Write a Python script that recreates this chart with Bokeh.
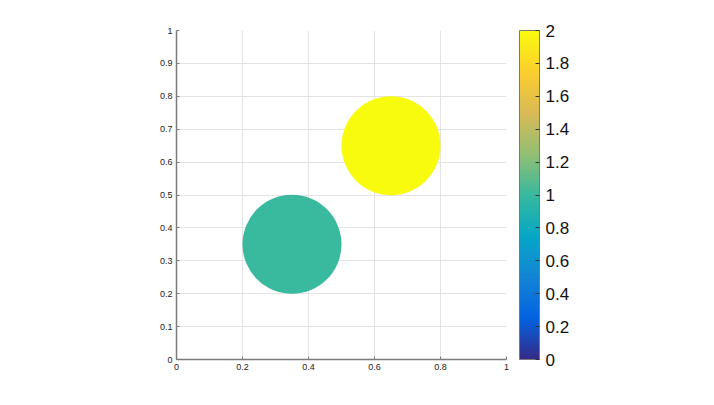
import numpy as np
from bokeh.plotting import figure
from bokeh.models import ColumnDataSource, LinearColorMapper, ColorBar, FixedTicker
from bokeh.embed import file_html
from bokeh.resources import INLINE

# data
xs = [0.35, 0.65]
ys = [0.35, 0.65]
radii = [0.15, 0.15]
vals = [1.0, 2.0]
axis_ticks = [0, 0.1, 0.2, 0.3, 0.4, 0.5, 0.6, 0.7, 0.8, 0.9, 1.0]
axis_labels = ["0", "0.1", "0.2", "0.3", "0.4", "0.5", "0.6", "0.7", "0.8", "0.9", "1"]
xaxis_ticks = [0, 0.2, 0.4, 0.6, 0.8, 1.0]
xaxis_labels = ["0", "0.2", "0.4", "0.6", "0.8", "1"]
cb_ticks = [0, 0.2, 0.4, 0.6, 0.8, 1.0, 1.2, 1.4, 1.6, 1.8, 2.0]
cb_labels = ["0", "0.2", "0.4", "0.6", "0.8", "1", "1.2", "1.4", "1.6", "1.8", "2"]

# parula-like palette
anchors = ["#352a87", "#0363e1", "#1485d4", "#06a7c6", "#38b99e",
           "#92bf73", "#d9ba56", "#fcce2e", "#f9fb0e"]
def hex2rgb(h):
    return [int(h[i:i + 2], 16) for i in (1, 3, 5)]
arr = np.array([hex2rgb(a) for a in anchors], dtype=float)
pos = np.linspace(0, 1, len(anchors))
t = np.linspace(0, 1, 256)
pal = []
for ti in t:
    r = np.interp(ti, pos, arr[:, 0]); g = np.interp(ti, pos, arr[:, 1]); b = np.interp(ti, pos, arr[:, 2])
    pal.append("#%02x%02x%02x" % (int(round(r)), int(round(g)), int(round(b))))

mapper = LinearColorMapper(palette=pal, low=0, high=2)

src = ColumnDataSource(dict(x=xs, y=ys, r=radii, v=vals))

p = figure(output_backend="svg", toolbar_location=None,
           x_range=(0, 1), y_range=(0, 1),
           frame_width=330, frame_height=329,
           min_border_left=176, min_border_top=30, min_border_bottom=30,
           min_border_right=140)
p.outline_line_color = None
p.background_fill_color = "white"
p.border_fill_color = "white"

p.circle(x="x", y="y", radius="r", source=src,
         fill_color={"field": "v", "transform": mapper}, line_color=None)

for ax, ticks, labels in ((p.xaxis[0], xaxis_ticks, xaxis_labels), (p.yaxis[0], axis_ticks, axis_labels)):
    ax.ticker = FixedTicker(ticks=ticks)
    ax.major_label_overrides = {tk: lb for tk, lb in zip(ticks, labels)}
    ax.minor_tick_line_color = None
    ax.axis_line_color = "#7a7a7a"
    ax.axis_line_width = 1.5
    ax.major_tick_line_color = "#7a7a7a"
    ax.major_tick_in = 3
    ax.major_tick_out = 0
    ax.major_label_text_font = "Liberation Sans"
    ax.major_label_text_font_size = "9px"
    ax.major_label_text_color = "#222222"
    ax.major_label_standoff = 4

p.xgrid.ticker = FixedTicker(ticks=xaxis_ticks)
p.ygrid.ticker = FixedTicker(ticks=axis_ticks)
p.grid.grid_line_color = "#e3e3e3"
p.grid.grid_line_width = 1

cb = ColorBar(color_mapper=mapper, width=20, height=329,
              ticker=FixedTicker(ticks=cb_ticks),
              major_label_overrides={tk: lb for tk, lb in zip(cb_ticks, cb_labels)},
              major_tick_in=4, major_tick_out=0,
              major_tick_line_color="#333333",
              bar_line_color="#7a7a7a", bar_line_width=1,
              major_label_text_font="Liberation Sans",
              major_label_text_font_size="17px",
              major_label_text_color="#111111",
              label_standoff=6,
              padding=0, margin=0,
              background_fill_color=None, border_line_color=None,
              location=(13, 0))
p.add_layout(cb, "right")

open("out.html", "w").write(file_html(p, INLINE))
